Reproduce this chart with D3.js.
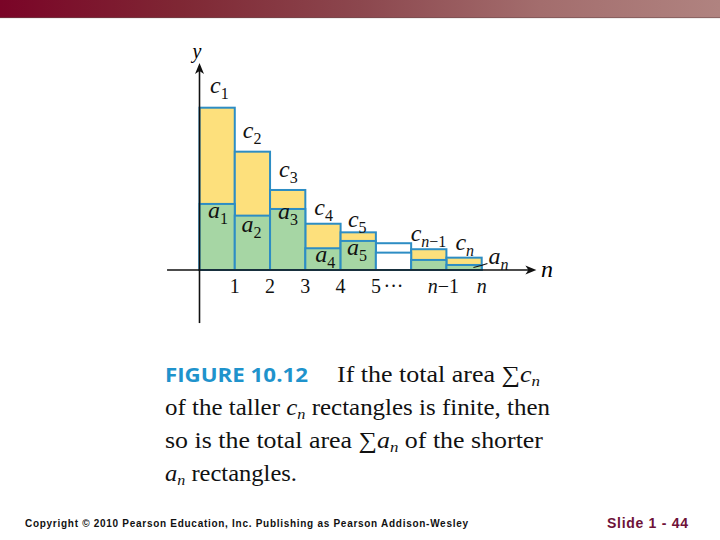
<!DOCTYPE html>
<html>
<head>
<meta charset="utf-8">
<script src="https://cdn.jsdelivr.net/npm/d3@7/dist/d3.min.js"></script>
<style>
  html, body { margin: 0; padding: 0; background: #fff; }
  svg { display: block; }
</style>
</head>
<body>
<script>
// ---- data ----
const barNames = ["1", "2", "3", "4", "5", "gap", "n-1", "n"];
const cValues = [10, 7.29, 4.93, 2.85, 2.32, 1.65, 1.28, 0.76];
const aValues = [4.07, 3.35, 3.76, 1.34, 1.79, 1.07, 0.62, 0.31];
const cLabelSubs = ["1", "2", "3", "4", "5", null, "n\u22121", "n"];
const aLabelSubs = ["1", "2", "3", "4", "5", null, null, "n"];
const tickPositions = [1, 2, 3, 4, 5, 5.5, 7, 8];
const tickLabels = ["1", "2", "3", "4", "5", "\u00b7\u00b7\u00b7", "n\u22121", "n"];

// ---- layout ----
const W = 720, H = 540;
const svg = d3.select("body").append("svg").attr("width", W).attr("height", H);

// header gradient bar
const defs = svg.append("defs");
const grad = defs.append("linearGradient").attr("id", "hdr").attr("x1", "0").attr("x2", "1").attr("y1", "0").attr("y2", "0");
[[0, "#7a0427"], [0.25, "#7f2734"], [0.5, "#8c474e"], [0.75, "#a36d6d"], [1, "#b08380"]].forEach(s =>
  grad.append("stop").attr("offset", s[0]).attr("stop-color", s[1]));
svg.append("rect").attr("x", 0).attr("y", 0).attr("width", W).attr("height", 18).attr("fill", "url(#hdr)");
svg.append("rect").attr("x", 0).attr("y", 17).attr("width", W).attr("height", 1.2).attr("fill", "#6a4a4a").attr("opacity", 0.5);

const x = d3.scaleLinear().domain([0, 8]).range([199.5, 481.7]);
const y = d3.scaleLinear().domain([0, 10]).range([270, 107.7]);

const yellow = "#fde07c", green = "#a6d6a4", blue = "#2d8dc4";
const serif = "'Liberation Serif', 'Times New Roman', serif";

const g = svg.append("g");

// c rectangles (taller)
g.selectAll("rect.c").data(cValues).join("rect")
  .attr("class", "c")
  .attr("x", (d, i) => x(i))
  .attr("y", d => y(d))
  .attr("width", (d, i) => x(i + 1) - x(i))
  .attr("height", d => y(0) - y(d))
  .attr("fill", (d, i) => barNames[i] === "gap" ? "#fff" : yellow)
  .attr("stroke", blue).attr("stroke-width", 2);

// a rectangles (shorter)
g.selectAll("rect.a").data(aValues).join("rect")
  .attr("class", "a")
  .attr("x", (d, i) => x(i))
  .attr("y", d => y(d))
  .attr("width", (d, i) => x(i + 1) - x(i))
  .attr("height", d => y(0) - y(d))
  .attr("fill", (d, i) => barNames[i] === "gap" ? "#fff" : green)
  .attr("stroke", blue).attr("stroke-width", 2);

// axes
const axisColor = "#111";
const xAxisStart = x(-0.92), xAxisEnd = x(9.55);
const yAxisBottom = y(-3.27), yAxisTop = y(12.75);
g.append("line").attr("x1", xAxisStart).attr("x2", xAxisEnd - 6).attr("y1", y(0)).attr("y2", y(0))
  .attr("stroke", axisColor).attr("stroke-width", 1.6);
g.append("path").attr("d", `M${xAxisEnd},${y(0)} L${xAxisEnd - 11},${y(0) - 4.5} L${xAxisEnd - 8},${y(0)} L${xAxisEnd - 11},${y(0) + 4.5} Z`).attr("fill", axisColor);
g.append("line").attr("x1", x(0)).attr("x2", x(0)).attr("y1", yAxisBottom).attr("y2", yAxisTop + 6)
  .attr("stroke", axisColor).attr("stroke-width", 1.6);
g.append("path").attr("d", `M${x(0)},${yAxisTop} L${x(0) - 4.5},${yAxisTop + 11} L${x(0)},${yAxisTop + 8} L${x(0) + 4.5},${yAxisTop + 11} Z`).attr("fill", axisColor);

// axis titles
g.append("text").attr("x", x(0) - 2.5).attr("y", 58).attr("text-anchor", "middle")
  .attr("font-family", serif).attr("font-style", "italic").attr("font-size", 20).text("y");
g.append("text").attr("x", 541).attr("y", 277)
  .attr("font-family", serif).attr("font-style", "italic").attr("font-size", 24).text("n");

// tick labels
tickLabels.forEach((t, i) => {
  const tx = g.append("text").attr("x", x(tickPositions[i]) + (t.startsWith("n\u2212") ? -3 : 0)).attr("y", 293)
    .attr("text-anchor", "middle").attr("font-family", serif).attr("font-size", 20).attr("fill", "#111");
  if (t.startsWith("n")) {
    tx.append("tspan").attr("font-style", "italic").text("n");
    tx.append("tspan").text(t.slice(1));
  } else {
    tx.text(t);
  }
});

// bar labels
const cNudge = [[10.5, -14.7], [8, -13.7], [9, -13], [9, -8.7], [7.3, -5.6], null, [-0.5, -8.6], [9, -7.7]];
const aNudge = [[8.5, 14], [6.7, 16], [8, 10], [10, 13.4], [6.3, 14], null, null, [42, -0.5]];

function subLabel(letter, sub, px, py) {
  const t = g.append("text").attr("x", px).attr("y", py).attr("font-family", serif).attr("fill", "#111");
  t.append("tspan").attr("font-style", "italic").attr("font-size", 24).text(letter);
  const s = t.append("tspan").attr("font-size", 16).attr("dy", 6);
  if (sub.startsWith("n")) {
    s.append("tspan").attr("font-style", "italic").text("n");
    if (sub.length > 1) s.append("tspan").text(sub.slice(1));
  } else {
    s.text(sub);
  }
}
cValues.forEach((v, i) => {
  if (!cLabelSubs[i]) return;
  subLabel("c", cLabelSubs[i], x(i) + cNudge[i][0], y(v) + cNudge[i][1]);
});
aValues.forEach((v, i) => {
  if (!aLabelSubs[i]) return;
  subLabel("a", aLabelSubs[i], x(i) + aNudge[i][0], y(v) + aNudge[i][1]);
});
// leader line for a_n
const lastI = aValues.length - 1;
g.append("path")
  .attr("d", `M${x(lastI) + 27},${y(aValues[lastI]) + 2.5} Q${x(lastI) + 34},${y(aValues[lastI]) + 1} ${x(lastI) + 41},${y(aValues[lastI]) - 1.5}`)
  .attr("fill", "none").attr("stroke", "#111").attr("stroke-width", 1.2);

// ---- caption ----
const cap = svg.append("g");
cap.append("text").attr("x", 165).attr("y", 382)
  .attr("font-family", "'Open Sans', 'Noto Sans', sans-serif").attr("font-weight", "bold")
  .attr("font-size", 19).attr("fill", "#1f93cc")
  .attr("textLength", 143).attr("lengthAdjust", "spacingAndGlyphs").text("FIGURE 10.12");

function capLine(px, py, parts, len) {
  const t = cap.append("text").attr("x", px).attr("y", py).attr("font-family", serif)
    .attr("font-size", 23).attr("fill", "#111");
  if (len) t.attr("textLength", len).attr("lengthAdjust", "spacingAndGlyphs");
  parts.forEach(p => {
    const s = t.append("tspan").text(p.t);
    if (p.i) s.attr("font-style", "italic");
    if (p.sub) s.attr("font-size", 15).attr("dy", 4);
    if (p.up) s.attr("dy", -4);
  });
}
capLine(337, 382, [{ t: "If the total area " }, { t: "\u2211" }, { t: "c", i: 1 }, { t: "n", i: 1, sub: 1 }], 203);
capLine(165, 415, [{ t: "of the taller " }, { t: "c", i: 1 }, { t: "n", i: 1, sub: 1 }, { t: " rectangles is finite, then", up: 1 }], 385);
capLine(165, 448, [{ t: "so is the total area " }, { t: "\u2211" }, { t: "a", i: 1 }, { t: "n", i: 1, sub: 1 }, { t: " of the shorter", up: 1 }], 378);
capLine(165, 481, [{ t: "a", i: 1 }, { t: "n", i: 1, sub: 1 }, { t: " rectangles.", up: 1 }], 132);

// ---- footer ----
svg.append("text").attr("x", 25).attr("y", 527)
  .attr("font-family", "'Liberation Sans', Arial, sans-serif").attr("font-weight", "bold")
  .attr("font-size", 10).attr("fill", "#111")
  .attr("textLength", 443).attr("lengthAdjust", "spacing")
  .text("Copyright \u00a9 2010 Pearson Education, Inc.  Publishing as Pearson Addison-Wesley");
svg.append("text").attr("x", 607).attr("y", 528)
  .attr("font-family", "'Liberation Sans', Arial, sans-serif").attr("font-weight", "bold")
  .attr("font-size", 14).attr("fill", "#6e1238")
  .attr("textLength", 81).attr("lengthAdjust", "spacing")
  .text("Slide 1 - 44");
</script>
</body>
</html>
